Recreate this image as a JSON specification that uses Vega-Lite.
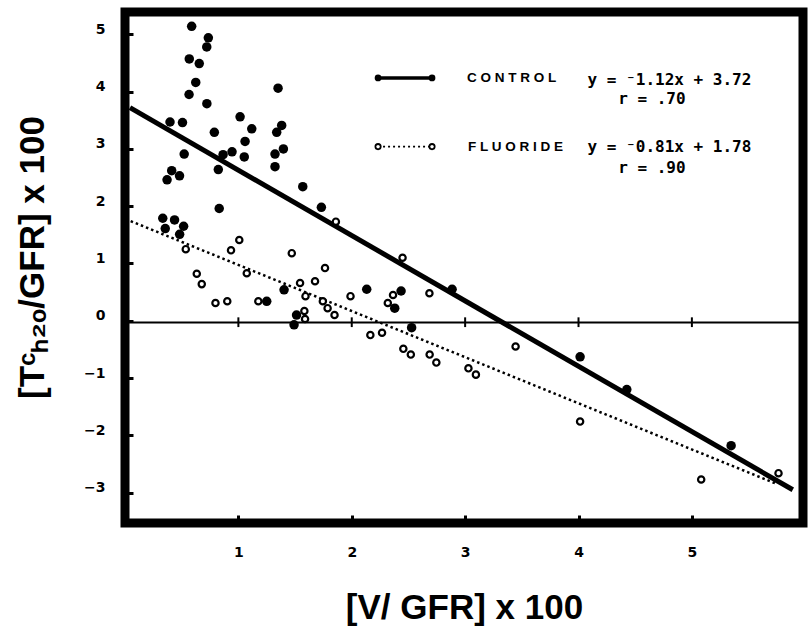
{
  "$schema": "https://vega.github.io/schema/vega-lite/v6.json",
  "width": 678,
  "height": 511,
  "autosize": {"type": "none"},
  "padding": {"left": 125, "top": 12, "right": 6, "bottom": 104},
  "background": "white",
  "view": {"stroke": "black", "strokeWidth": 9},
  "config": {"font": "Liberation Sans"},
  "datasets": {
    "pts": [
      {"group": "Control", "x": 0.588, "y": 5.14},
      {"group": "Control", "x": 0.735, "y": 4.94},
      {"group": "Control", "x": 0.721, "y": 4.78},
      {"group": "Control", "x": 0.567, "y": 4.57},
      {"group": "Control", "x": 0.655, "y": 4.49},
      {"group": "Control", "x": 0.624, "y": 4.16},
      {"group": "Control", "x": 0.565, "y": 3.95},
      {"group": "Control", "x": 0.722, "y": 3.79},
      {"group": "Control", "x": 0.397, "y": 3.47},
      {"group": "Control", "x": 0.507, "y": 3.46},
      {"group": "Control", "x": 1.015, "y": 3.56},
      {"group": "Control", "x": 1.118, "y": 3.35},
      {"group": "Control", "x": 0.788, "y": 3.29},
      {"group": "Control", "x": 1.059, "y": 3.13},
      {"group": "Control", "x": 0.522, "y": 2.91},
      {"group": "Control", "x": 0.865, "y": 2.90},
      {"group": "Control", "x": 0.944, "y": 2.95},
      {"group": "Control", "x": 1.052, "y": 2.86},
      {"group": "Control", "x": 1.350, "y": 4.06},
      {"group": "Control", "x": 1.382, "y": 3.41},
      {"group": "Control", "x": 1.338, "y": 3.29},
      {"group": "Control", "x": 1.397, "y": 3.00},
      {"group": "Control", "x": 1.323, "y": 2.91},
      {"group": "Control", "x": 1.323, "y": 2.69},
      {"group": "Control", "x": 0.823, "y": 2.64},
      {"group": "Control", "x": 0.412, "y": 2.62},
      {"group": "Control", "x": 0.481, "y": 2.53},
      {"group": "Control", "x": 0.371, "y": 2.46},
      {"group": "Control", "x": 0.831, "y": 1.96},
      {"group": "Control", "x": 0.333, "y": 1.79},
      {"group": "Control", "x": 0.437, "y": 1.76},
      {"group": "Control", "x": 0.355, "y": 1.61},
      {"group": "Control", "x": 0.517, "y": 1.65},
      {"group": "Control", "x": 0.482, "y": 1.51},
      {"group": "Control", "x": 1.568, "y": 2.34},
      {"group": "Control", "x": 1.732, "y": 1.98},
      {"group": "Control", "x": 1.250, "y": 0.34},
      {"group": "Control", "x": 1.403, "y": 0.54},
      {"group": "Control", "x": 1.513, "y": 0.10},
      {"group": "Control", "x": 1.491, "y": -0.07},
      {"group": "Control", "x": 2.132, "y": 0.55},
      {"group": "Control", "x": 2.435, "y": 0.52},
      {"group": "Control", "x": 2.379, "y": 0.22},
      {"group": "Control", "x": 2.885, "y": 0.55},
      {"group": "Control", "x": 2.528, "y": -0.12},
      {"group": "Control", "x": 4.014, "y": -0.63},
      {"group": "Control", "x": 4.426, "y": -1.20},
      {"group": "Control", "x": 5.346, "y": -2.18},
      {"group": "Fluoride", "x": 0.536, "y": 1.25},
      {"group": "Fluoride", "x": 1.008, "y": 1.41},
      {"group": "Fluoride", "x": 0.935, "y": 1.23},
      {"group": "Fluoride", "x": 0.633, "y": 0.82},
      {"group": "Fluoride", "x": 0.677, "y": 0.64},
      {"group": "Fluoride", "x": 1.074, "y": 0.83},
      {"group": "Fluoride", "x": 0.798, "y": 0.31},
      {"group": "Fluoride", "x": 0.902, "y": 0.34},
      {"group": "Fluoride", "x": 1.176, "y": 0.34},
      {"group": "Fluoride", "x": 1.860, "y": 1.73},
      {"group": "Fluoride", "x": 1.471, "y": 1.18},
      {"group": "Fluoride", "x": 1.764, "y": 0.92},
      {"group": "Fluoride", "x": 2.448, "y": 1.10},
      {"group": "Fluoride", "x": 1.676, "y": 0.69},
      {"group": "Fluoride", "x": 1.544, "y": 0.66},
      {"group": "Fluoride", "x": 1.592, "y": 0.43},
      {"group": "Fluoride", "x": 1.745, "y": 0.34},
      {"group": "Fluoride", "x": 1.787, "y": 0.22},
      {"group": "Fluoride", "x": 1.848, "y": 0.10},
      {"group": "Fluoride", "x": 1.582, "y": 0.17},
      {"group": "Fluoride", "x": 1.588, "y": 0.03},
      {"group": "Fluoride", "x": 1.989, "y": 0.43},
      {"group": "Fluoride", "x": 2.364, "y": 0.45},
      {"group": "Fluoride", "x": 2.318, "y": 0.31},
      {"group": "Fluoride", "x": 2.685, "y": 0.48},
      {"group": "Fluoride", "x": 2.164, "y": -0.25},
      {"group": "Fluoride", "x": 2.267, "y": -0.21},
      {"group": "Fluoride", "x": 2.455, "y": -0.49},
      {"group": "Fluoride", "x": 2.521, "y": -0.59},
      {"group": "Fluoride", "x": 2.687, "y": -0.59},
      {"group": "Fluoride", "x": 2.746, "y": -0.73},
      {"group": "Fluoride", "x": 3.029, "y": -0.83},
      {"group": "Fluoride", "x": 3.095, "y": -0.94},
      {"group": "Fluoride", "x": 3.445, "y": -0.45},
      {"group": "Fluoride", "x": 4.014, "y": -1.76},
      {"group": "Fluoride", "x": 5.082, "y": -2.77},
      {"group": "Fluoride", "x": 5.764, "y": -2.66}
    ],
    "fits": [
      {"group": "Control", "x": 0.044, "y": 3.72},
      {"group": "Control", "x": 5.89, "y": -2.95},
      {"group": "Fluoride", "x": 0.05, "y": 1.74},
      {"group": "Fluoride", "x": 5.75, "y": -2.85}
    ],
    "zero": [{"x": 0, "x2": 5.98, "y": -0.03}],
    "crosses": [
      {"x": 1, "y": -0.11, "y2": 0.06},
      {"x": 2, "y": -0.11, "y2": 0.06},
      {"x": 3, "y": -0.11, "y2": 0.06},
      {"x": 4, "y": -0.11, "y2": 0.06},
      {"x": 5, "y": -0.11, "y2": 0.06}
    ],
    "legendLines": [
      {"group": "Control", "x": 2.232, "y": 4.24},
      {"group": "Control", "x": 2.708, "y": 4.24},
      {"group": "Fluoride", "x": 2.232, "y": 3.04},
      {"group": "Fluoride", "x": 2.708, "y": 3.04}
    ],
    "legendLabels": [
      {"x": 3.017, "y": 4.24, "text": "C O N T R O L"},
      {"x": 3.026, "y": 3.04, "text": "F L U O R I D E"}
    ],
    "legendEq": [
      {"x": 4.08, "y": 4.21, "text": "y = ⁻1.12x + 3.72"},
      {"x": 4.35, "y": 3.87, "text": "r = .70"},
      {"x": 4.08, "y": 3.04, "text": "y = ⁻0.81x + 1.78"},
      {"x": 4.35, "y": 2.67, "text": "r = .90"}
    ]
  },
  "encoding": {
    "x": {
      "field": "x",
      "type": "quantitative",
      "scale": {"domain": [0, 5.98], "nice": false, "zero": false},
      "axis": {
        "values": [1, 2, 3, 4, 5],
        "title": "[V/ GFR] x 100",
        "grid": false,
        "domain": false,
        "tickSize": -8,
        "tickWidth": 3,
        "tickColor": "black",
        "labelFont": "DejaVu Sans",
        "labelFontWeight": "bold",
        "labelFontSize": 14,
        "labelColor": "black",
        "labelPadding": 30,
        "titleFont": "Liberation Sans",
        "titleFontSize": 35,
        "titleFontWeight": "bold",
        "titleColor": "black",
        "titleY": 95,
        "titleBaseline": "alphabetic"
      }
    },
    "y": {
      "field": "y",
      "type": "quantitative",
      "scale": {"domain": [-3.53, 5.39], "nice": false, "zero": false},
      "axis": {
        "values": [-3, -2, -1, 0, 1, 2, 3, 4, 5],
        "title": "[Tᶜₕ₂ₒ/GFR] x 100",
        "grid": false,
        "domain": false,
        "tickSize": -8,
        "tickWidth": 3,
        "tickColor": "black",
        "labelFont": "DejaVu Sans",
        "labelFontWeight": "bold",
        "labelFontSize": 14,
        "labelColor": "black",
        "labelPadding": 28,
        "labelOffset": -5,
        "titleFont": "Liberation Sans",
        "titleFontSize": 35,
        "titleFontWeight": "bold",
        "titleColor": "black",
        "titleX": -82,
        "titleY": 245,
        "titleAlign": "center",
        "titleBaseline": "alphabetic"
      }
    }
  },
  "layer": [
    {
      "data": {"name": "zero"},
      "mark": {"type": "rule", "color": "black", "strokeWidth": 2},
      "encoding": {"x2": {"field": "x2"}}
    },
    {
      "data": {"name": "crosses"},
      "mark": {"type": "rule", "color": "black", "strokeWidth": 2},
      "encoding": {"y2": {"field": "y2"}}
    },
    {
      "data": {"name": "fits"},
      "transform": [{"filter": "datum.group === 'Control'"}],
      "mark": {"type": "line", "color": "black", "strokeWidth": 5},
      "encoding": {"detail": {"field": "group"}}
    },
    {
      "data": {"name": "fits"},
      "transform": [{"filter": "datum.group === 'Fluoride'"}],
      "mark": {"type": "line", "color": "black", "strokeWidth": 2.5, "strokeDash": [2.5, 3]},
      "encoding": {"detail": {"field": "group"}}
    },
    {
      "data": {"name": "pts"},
      "transform": [{"filter": "datum.group === 'Control'"}],
      "mark": {"type": "point", "shape": "circle", "filled": true, "color": "black", "size": 90, "opacity": 1}
    },
    {
      "data": {"name": "pts"},
      "transform": [{"filter": "datum.group === 'Fluoride'"}],
      "mark": {"type": "point", "shape": "circle", "filled": false, "color": "black", "fill": "white", "fillOpacity": 1, "size": 40, "strokeWidth": 2.2, "opacity": 1}
    },
    {
      "data": {"name": "legendLines"},
      "transform": [{"filter": "datum.group === 'Control'"}],
      "mark": {"type": "line", "color": "black", "strokeWidth": 3.5}
    },
    {
      "data": {"name": "legendLines"},
      "transform": [{"filter": "datum.group === 'Control'"}],
      "mark": {"type": "point", "shape": "circle", "filled": true, "color": "black", "size": 45, "opacity": 1}
    },
    {
      "data": {"name": "legendLines"},
      "transform": [{"filter": "datum.group === 'Fluoride'"}],
      "mark": {"type": "line", "color": "black", "strokeWidth": 1.8, "strokeDash": [2, 3]}
    },
    {
      "data": {"name": "legendLines"},
      "transform": [{"filter": "datum.group === 'Fluoride'"}],
      "mark": {"type": "point", "shape": "circle", "filled": false, "color": "black", "fill": "white", "fillOpacity": 1, "size": 28, "strokeWidth": 1.8, "opacity": 1}
    },
    {
      "data": {"name": "legendLabels"},
      "mark": {"type": "text", "align": "left", "baseline": "middle", "font": "Liberation Sans", "fontWeight": "bold", "fontSize": 13.5, "color": "black"},
      "encoding": {"text": {"field": "text"}}
    },
    {
      "data": {"name": "legendEq"},
      "mark": {"type": "text", "align": "left", "baseline": "middle", "font": "DejaVu Sans Mono", "fontWeight": "bold", "fontSize": 16, "color": "black"},
      "encoding": {"text": {"field": "text"}}
    }
  ]
}
